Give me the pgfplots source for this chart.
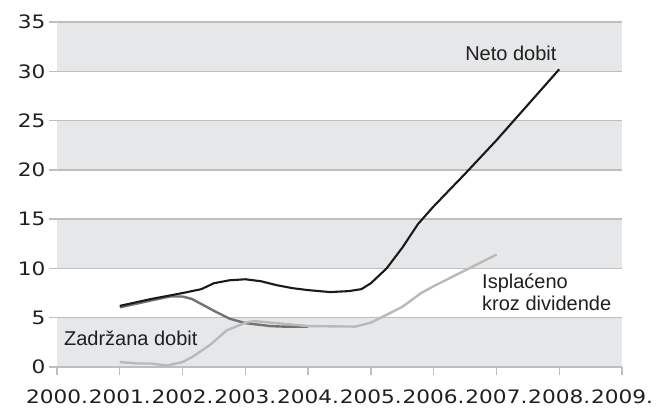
\documentclass[border=0pt]{standalone}
\usepackage{pgfplots}
\pgfplotsset{compat=1.18}
\usepackage{fontspec}
\setmainfont{Liberation Sans}
\newfontfamily\tickfont[FakeStretch=1.17]{DejaVu Sans}
\definecolor{band}{HTML}{E6E7E9}
\definecolor{gridc}{HTML}{BDBEC0}
\definecolor{netoc}{HTML}{1A1A1A}
\definecolor{zadc}{HTML}{727272}
\definecolor{ispc}{HTML}{B9B9B9}
\begin{document}
\begin{tikzpicture}
\begin{axis}[
  set layers,
  scale only axis, width=565bp, height=345bp,
  xmin=2000, xmax=2009, ymin=0, ymax=35,
  axis line style={draw=none},
  xtick={2000,2001,...,2009},
  xticklabels={2000.,2001.,2002.,2003.,2004.,2005.,2006.,2007.,2008.,2009.},
  ytick={0,5,...,35},
  ymajorgrids, grid style={gridc, line width=1.3bp},
  tick style={gridc, line width=1.3bp},
  tick align=outside, major tick length=8bp,
  xtick pos=bottom, ytick pos=left,
  /pgf/number format/assume math mode=true,
  tick label style={font=\tickfont\fontsize{18.5bp}{21bp}\selectfont, text=black!88},
  xticklabel style={yshift=-11bp},
  yticklabel style={xshift=0bp},
]
\begin{pgfonlayer}{axis background}
\fill[band] (axis cs:2000,0) rectangle (axis cs:2009,5);
\fill[band] (axis cs:2000,10) rectangle (axis cs:2009,15);
\fill[band] (axis cs:2000,20) rectangle (axis cs:2009,25);
\fill[band] (axis cs:2000,30) rectangle (axis cs:2009,35);
\end{pgfonlayer}
% Zadrzana dobit
\addplot[zadc, line width=2.4bp] coordinates {
(2001.0,6.05) (2001.5,6.75) (2001.8,7.15) (2002.0,7.15) (2002.15,6.9)
(2002.5,5.7) (2002.75,4.9) (2003.0,4.45) (2003.4,4.15) (2003.6,4.1) (2004.0,4.1)
};
% Isplaceno kroz dividende
\addplot[ispc, line width=2.4bp] coordinates {
(2001.0,0.5) (2001.3,0.35) (2001.5,0.35) (2001.75,0.15) (2002.0,0.5)
(2002.15,1.0) (2002.45,2.3) (2002.7,3.7) (2003.0,4.5) (2003.15,4.65)
(2003.5,4.45) (2004.0,4.15) (2004.75,4.1) (2005.0,4.5) (2005.5,6.1)
(2005.8,7.5) (2006.0,8.2) (2006.5,9.8) (2007.0,11.4)
};
% Neto dobit
\addplot[netoc, line width=2.1bp] coordinates {
(2001.0,6.2) (2001.5,6.9) (2002.0,7.5) (2002.3,7.9) (2002.5,8.5)
(2002.75,8.8) (2003.0,8.9) (2003.25,8.7) (2003.5,8.3) (2003.75,8.0)
(2004.0,7.8) (2004.35,7.6) (2004.65,7.7) (2004.85,7.9) (2005.0,8.5)
(2005.25,10.0) (2005.5,12.1) (2005.75,14.5) (2006.0,16.3) (2006.5,19.6)
(2007.0,23.0) (2007.5,26.6) (2008.0,30.2)
};
\node[font=\fontsize{20bp}{24bp}\selectfont, text=black!88] at (axis cs:2007.23,31.86) {Neto dobit};
\node[font=\fontsize{20bp}{24bp}\selectfont, text=black!88, anchor=west, inner sep=0pt] at (axis cs:2000.11,2.94) {Zadržana dobit};
\node[font=\fontsize{20bp}{22bp}\selectfont, text=black!88, anchor=west, align=left, inner sep=0pt] at (axis cs:2006.77,7.6) {Isplaćeno\\kroz dividende};
\end{axis}
\path ([shift={(-57bp,-41bp)}]current axis.south west) rectangle ([shift={(37bp,22bp)}]current axis.north east);
\end{tikzpicture}
\end{document}
